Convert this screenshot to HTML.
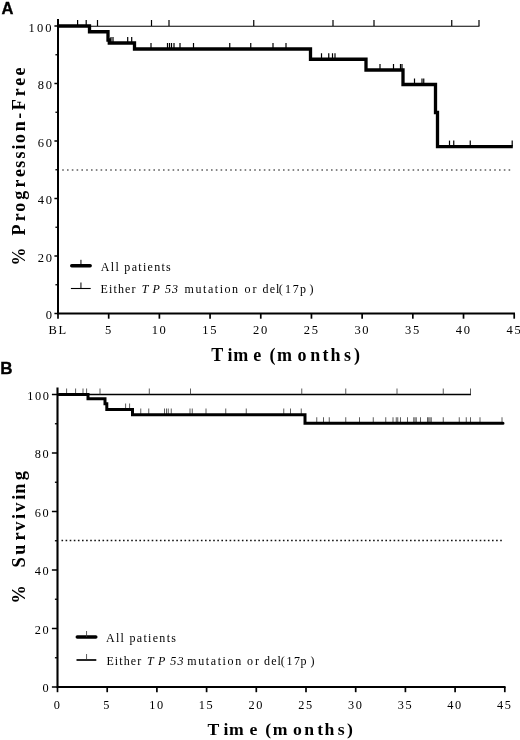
<!DOCTYPE html>
<html><head><meta charset="utf-8"><title>Figure</title>
<style>
html,body{margin:0;padding:0;background:#fff;}
body{width:520px;height:740px;overflow:hidden;}
svg{display:block;}
text{font-family:"Liberation Serif",serif;fill:#000;}
.pl{font-family:"Liberation Sans",sans-serif;font-weight:bold;font-size:17.5px;}
.tk{font-size:12.5px;letter-spacing:1.7px;}
.tkb{font-size:12.3px;letter-spacing:1.6px;}
.ax{font-size:18px;font-weight:bold;}
.axb{font-size:17.7px;font-weight:bold;}
.ayb{font-size:18.3px;font-weight:bold;}
.lg{font-size:12px;letter-spacing:1.9px;}
</style></head><body>
<svg width="520" height="740" viewBox="0 0 520 740">
<rect width="520" height="740" fill="#fff"/>

<line x1="62.2" y1="169.9" x2="512.2" y2="169.9" stroke="#606060" stroke-width="1.5" stroke-dasharray="1.6 3.2"/>
<path d="M58 19V313.5H515.0" fill="none" stroke="#000" stroke-width="2.0"/>
<line x1="54.4" y1="313.50" x2="58" y2="313.50" stroke="#000" stroke-width="1.5"/>
<text class="tk" x="53.6" y="319.20" text-anchor="end">0</text>
<line x1="55.4" y1="284.75" x2="58" y2="284.75" stroke="#000" stroke-width="1.3"/>
<line x1="54.4" y1="256.00" x2="58" y2="256.00" stroke="#000" stroke-width="1.5"/>
<text class="tk" x="53.6" y="261.70" text-anchor="end">20</text>
<line x1="55.4" y1="227.25" x2="58" y2="227.25" stroke="#000" stroke-width="1.3"/>
<line x1="54.4" y1="198.50" x2="58" y2="198.50" stroke="#000" stroke-width="1.5"/>
<text class="tk" x="53.6" y="204.20" text-anchor="end">40</text>
<line x1="55.4" y1="169.75" x2="58" y2="169.75" stroke="#000" stroke-width="1.3"/>
<line x1="54.4" y1="141.00" x2="58" y2="141.00" stroke="#000" stroke-width="1.5"/>
<text class="tk" x="53.6" y="146.70" text-anchor="end">60</text>
<line x1="55.4" y1="112.25" x2="58" y2="112.25" stroke="#000" stroke-width="1.3"/>
<line x1="54.4" y1="83.50" x2="58" y2="83.50" stroke="#000" stroke-width="1.5"/>
<text class="tk" x="53.6" y="89.20" text-anchor="end">80</text>
<line x1="55.4" y1="54.75" x2="58" y2="54.75" stroke="#000" stroke-width="1.3"/>
<line x1="54.4" y1="26.00" x2="58" y2="26.00" stroke="#000" stroke-width="1.5"/>
<text class="tk" x="53.6" y="31.70" text-anchor="end" style="letter-spacing:2.1px">100</text>
<line x1="58.00" y1="313.5" x2="58.00" y2="318.7" stroke="#000" stroke-width="1.7"/>
<text class="tk" x="58.20" y="334.1" text-anchor="middle">BL</text>
<line x1="108.69" y1="313.5" x2="108.69" y2="318.7" stroke="#000" stroke-width="1.7"/>
<text class="tk" x="108.89" y="334.1" text-anchor="middle">5</text>
<line x1="159.38" y1="313.5" x2="159.38" y2="318.7" stroke="#000" stroke-width="1.7"/>
<text class="tk" x="159.58" y="334.1" text-anchor="middle">10</text>
<line x1="210.07" y1="313.5" x2="210.07" y2="318.7" stroke="#000" stroke-width="1.7"/>
<text class="tk" x="210.27" y="334.1" text-anchor="middle">15</text>
<line x1="260.76" y1="313.5" x2="260.76" y2="318.7" stroke="#000" stroke-width="1.7"/>
<text class="tk" x="260.96" y="334.1" text-anchor="middle">20</text>
<line x1="311.45" y1="313.5" x2="311.45" y2="318.7" stroke="#000" stroke-width="1.7"/>
<text class="tk" x="311.65" y="334.1" text-anchor="middle">25</text>
<line x1="362.14" y1="313.5" x2="362.14" y2="318.7" stroke="#000" stroke-width="1.7"/>
<text class="tk" x="362.34" y="334.1" text-anchor="middle">30</text>
<line x1="412.83" y1="313.5" x2="412.83" y2="318.7" stroke="#000" stroke-width="1.7"/>
<text class="tk" x="413.03" y="334.1" text-anchor="middle">35</text>
<line x1="463.52" y1="313.5" x2="463.52" y2="318.7" stroke="#000" stroke-width="1.7"/>
<text class="tk" x="463.72" y="334.1" text-anchor="middle">40</text>
<line x1="514.21" y1="313.5" x2="514.21" y2="318.7" stroke="#000" stroke-width="1.7"/>
<text class="tk" x="514.41" y="334.1" text-anchor="middle">45</text>
<line x1="58" y1="26.3" x2="479.5" y2="26.3" stroke="#000" stroke-width="1.1"/>
<line x1="77.6" y1="20.0" x2="77.6" y2="26" stroke="#000" stroke-width="1.2"/>
<line x1="86.2" y1="20.0" x2="86.2" y2="26" stroke="#000" stroke-width="1.2"/>
<line x1="97.5" y1="20.0" x2="97.5" y2="26" stroke="#000" stroke-width="1.2"/>
<line x1="151.5" y1="20.0" x2="151.5" y2="26" stroke="#000" stroke-width="1.2"/>
<line x1="169" y1="20.0" x2="169" y2="26" stroke="#000" stroke-width="1.2"/>
<line x1="253.75" y1="20.0" x2="253.75" y2="26" stroke="#000" stroke-width="1.2"/>
<line x1="333" y1="20.0" x2="333" y2="26" stroke="#000" stroke-width="1.2"/>
<line x1="374" y1="20.0" x2="374" y2="26" stroke="#000" stroke-width="1.2"/>
<line x1="451.75" y1="20.0" x2="451.75" y2="26" stroke="#000" stroke-width="1.2"/>
<line x1="479" y1="20.0" x2="479" y2="26" stroke="#000" stroke-width="1.2"/>
<line x1="111" y1="37.0" x2="111" y2="43" stroke="#000" stroke-width="1.2"/>
<line x1="113" y1="37.0" x2="113" y2="43" stroke="#000" stroke-width="1.2"/>
<line x1="127.7" y1="37.0" x2="127.7" y2="43" stroke="#000" stroke-width="1.2"/>
<line x1="131.7" y1="37.0" x2="131.7" y2="43" stroke="#000" stroke-width="1.2"/>
<line x1="151" y1="43.0" x2="151" y2="49" stroke="#000" stroke-width="1.2"/>
<line x1="167.5" y1="43.0" x2="167.5" y2="49" stroke="#000" stroke-width="1.2"/>
<line x1="169.5" y1="43.0" x2="169.5" y2="49" stroke="#000" stroke-width="1.2"/>
<line x1="171.5" y1="43.0" x2="171.5" y2="49" stroke="#000" stroke-width="1.2"/>
<line x1="174" y1="43.0" x2="174" y2="49" stroke="#000" stroke-width="1.2"/>
<line x1="180" y1="43.0" x2="180" y2="49" stroke="#000" stroke-width="1.2"/>
<line x1="193.5" y1="43.0" x2="193.5" y2="49" stroke="#000" stroke-width="1.2"/>
<line x1="229.75" y1="43.0" x2="229.75" y2="49" stroke="#000" stroke-width="1.2"/>
<line x1="250.75" y1="43.0" x2="250.75" y2="49" stroke="#000" stroke-width="1.2"/>
<line x1="273" y1="43.0" x2="273" y2="49" stroke="#000" stroke-width="1.2"/>
<line x1="286" y1="43.0" x2="286" y2="49" stroke="#000" stroke-width="1.2"/>
<line x1="321.5" y1="53.25" x2="321.5" y2="59.25" stroke="#000" stroke-width="1.2"/>
<line x1="328.75" y1="53.25" x2="328.75" y2="59.25" stroke="#000" stroke-width="1.2"/>
<line x1="332.5" y1="53.25" x2="332.5" y2="59.25" stroke="#000" stroke-width="1.2"/>
<line x1="335" y1="53.25" x2="335" y2="59.25" stroke="#000" stroke-width="1.2"/>
<line x1="380" y1="64.0" x2="380" y2="70" stroke="#000" stroke-width="1.2"/>
<line x1="393.5" y1="64.0" x2="393.5" y2="70" stroke="#000" stroke-width="1.2"/>
<line x1="400.5" y1="64.0" x2="400.5" y2="70" stroke="#000" stroke-width="1.2"/>
<line x1="402" y1="64.0" x2="402" y2="70" stroke="#000" stroke-width="1.2"/>
<line x1="414.5" y1="78.5" x2="414.5" y2="84.5" stroke="#000" stroke-width="1.2"/>
<line x1="422" y1="78.5" x2="422" y2="84.5" stroke="#000" stroke-width="1.2"/>
<line x1="423.75" y1="78.5" x2="423.75" y2="84.5" stroke="#000" stroke-width="1.2"/>
<line x1="449.5" y1="140.6" x2="449.5" y2="146.6" stroke="#000" stroke-width="1.2"/>
<line x1="453.75" y1="140.6" x2="453.75" y2="146.6" stroke="#000" stroke-width="1.2"/>
<line x1="470.25" y1="140.6" x2="470.25" y2="146.6" stroke="#000" stroke-width="1.2"/>
<line x1="512.2" y1="140.6" x2="512.2" y2="146.6" stroke="#000" stroke-width="1.2"/>
<path d="M58 26H89.5V31.75H108V40H109.3V43H134.5V49H310.5V59.25H366V70H403V84.5H435.5V112.5H437.5V146.6H512.8" fill="none" stroke="#000" stroke-width="3.3" stroke-linejoin="miter" stroke-linecap="butt"/>
<line x1="61.5" y1="540.5" x2="502.75" y2="540.5" stroke="#111" stroke-width="1.6" stroke-dasharray="1.6 2.5"/>
<path d="M57.5 387.5V687H505.55" fill="none" stroke="#000" stroke-width="2.1"/>
<line x1="51.9" y1="687.00" x2="57.5" y2="687.00" stroke="#000" stroke-width="1.5"/>
<text class="tkb" x="50.3" y="692.20" text-anchor="end">0</text>
<line x1="54.9" y1="657.75" x2="57.5" y2="657.75" stroke="#000" stroke-width="1.3"/>
<line x1="51.9" y1="628.50" x2="57.5" y2="628.50" stroke="#000" stroke-width="1.5"/>
<text class="tkb" x="50.3" y="633.70" text-anchor="end">20</text>
<line x1="54.9" y1="599.25" x2="57.5" y2="599.25" stroke="#000" stroke-width="1.3"/>
<line x1="51.9" y1="570.00" x2="57.5" y2="570.00" stroke="#000" stroke-width="1.5"/>
<text class="tkb" x="50.3" y="575.20" text-anchor="end">40</text>
<line x1="54.9" y1="540.75" x2="57.5" y2="540.75" stroke="#000" stroke-width="1.3"/>
<line x1="51.9" y1="511.50" x2="57.5" y2="511.50" stroke="#000" stroke-width="1.5"/>
<text class="tkb" x="50.3" y="516.70" text-anchor="end">60</text>
<line x1="54.9" y1="482.25" x2="57.5" y2="482.25" stroke="#000" stroke-width="1.3"/>
<line x1="51.9" y1="453.00" x2="57.5" y2="453.00" stroke="#000" stroke-width="1.5"/>
<text class="tkb" x="50.3" y="458.20" text-anchor="end">80</text>
<line x1="54.9" y1="423.75" x2="57.5" y2="423.75" stroke="#000" stroke-width="1.3"/>
<line x1="51.9" y1="394.50" x2="57.5" y2="394.50" stroke="#000" stroke-width="1.5"/>
<text class="tkb" x="50.3" y="399.70" text-anchor="end" style="letter-spacing:1.5px">100</text>
<line x1="57.50" y1="687" x2="57.50" y2="692.2" stroke="#000" stroke-width="1.7"/>
<text class="tkb" x="57.50" y="709" text-anchor="middle">0</text>
<line x1="107.20" y1="687" x2="107.20" y2="692.2" stroke="#000" stroke-width="1.7"/>
<text class="tkb" x="107.20" y="709" text-anchor="middle">5</text>
<line x1="156.90" y1="687" x2="156.90" y2="692.2" stroke="#000" stroke-width="1.7"/>
<text class="tkb" x="156.90" y="709" text-anchor="middle">10</text>
<line x1="206.60" y1="687" x2="206.60" y2="692.2" stroke="#000" stroke-width="1.7"/>
<text class="tkb" x="206.60" y="709" text-anchor="middle">15</text>
<line x1="256.30" y1="687" x2="256.30" y2="692.2" stroke="#000" stroke-width="1.7"/>
<text class="tkb" x="256.30" y="709" text-anchor="middle">20</text>
<line x1="306.00" y1="687" x2="306.00" y2="692.2" stroke="#000" stroke-width="1.7"/>
<text class="tkb" x="306.00" y="709" text-anchor="middle">25</text>
<line x1="355.70" y1="687" x2="355.70" y2="692.2" stroke="#000" stroke-width="1.7"/>
<text class="tkb" x="355.70" y="709" text-anchor="middle">30</text>
<line x1="405.40" y1="687" x2="405.40" y2="692.2" stroke="#000" stroke-width="1.7"/>
<text class="tkb" x="405.40" y="709" text-anchor="middle">35</text>
<line x1="455.10" y1="687" x2="455.10" y2="692.2" stroke="#000" stroke-width="1.7"/>
<text class="tkb" x="455.10" y="709" text-anchor="middle">40</text>
<line x1="504.80" y1="687" x2="504.80" y2="692.2" stroke="#000" stroke-width="1.7"/>
<text class="tkb" x="504.80" y="709" text-anchor="middle">45</text>
<line x1="57.5" y1="394.5" x2="471.0" y2="394.5" stroke="#000" stroke-width="1.5"/>
<line x1="66.6" y1="388.5" x2="66.6" y2="394.5" stroke="#333" stroke-width="0.8"/>
<line x1="75.6" y1="388.5" x2="75.6" y2="394.5" stroke="#333" stroke-width="0.8"/>
<line x1="83" y1="388.5" x2="83" y2="394.5" stroke="#333" stroke-width="0.8"/>
<line x1="86.6" y1="388.5" x2="86.6" y2="394.5" stroke="#333" stroke-width="0.8"/>
<line x1="100" y1="388.5" x2="100" y2="394.5" stroke="#333" stroke-width="0.8"/>
<line x1="149.3" y1="388.5" x2="149.3" y2="394.5" stroke="#333" stroke-width="0.8"/>
<line x1="190.5" y1="388.5" x2="190.5" y2="394.5" stroke="#333" stroke-width="0.8"/>
<line x1="301.75" y1="388.5" x2="301.75" y2="394.5" stroke="#333" stroke-width="0.8"/>
<line x1="345.75" y1="388.5" x2="345.75" y2="394.5" stroke="#333" stroke-width="0.8"/>
<line x1="397" y1="388.5" x2="397" y2="394.5" stroke="#333" stroke-width="0.8"/>
<line x1="443.25" y1="388.5" x2="443.25" y2="394.5" stroke="#333" stroke-width="0.8"/>
<line x1="470.5" y1="388.5" x2="470.5" y2="394.5" stroke="#333" stroke-width="0.8"/>
<line x1="125.6" y1="403.5" x2="125.6" y2="409.5" stroke="#333" stroke-width="0.8"/>
<line x1="129.6" y1="403.5" x2="129.6" y2="409.5" stroke="#333" stroke-width="0.8"/>
<line x1="140.75" y1="408.5" x2="140.75" y2="414.5" stroke="#333" stroke-width="0.8"/>
<line x1="148.75" y1="408.5" x2="148.75" y2="414.5" stroke="#333" stroke-width="0.8"/>
<line x1="164.5" y1="408.5" x2="164.5" y2="414.5" stroke="#333" stroke-width="0.8"/>
<line x1="166.5" y1="408.5" x2="166.5" y2="414.5" stroke="#333" stroke-width="0.8"/>
<line x1="168.25" y1="408.5" x2="168.25" y2="414.5" stroke="#333" stroke-width="0.8"/>
<line x1="171.25" y1="408.5" x2="171.25" y2="414.5" stroke="#333" stroke-width="0.8"/>
<line x1="190" y1="408.5" x2="190" y2="414.5" stroke="#333" stroke-width="0.8"/>
<line x1="192.25" y1="408.5" x2="192.25" y2="414.5" stroke="#333" stroke-width="0.8"/>
<line x1="206" y1="408.5" x2="206" y2="414.5" stroke="#333" stroke-width="0.8"/>
<line x1="225.75" y1="408.5" x2="225.75" y2="414.5" stroke="#333" stroke-width="0.8"/>
<line x1="246.25" y1="408.5" x2="246.25" y2="414.5" stroke="#333" stroke-width="0.8"/>
<line x1="283.75" y1="408.5" x2="283.75" y2="414.5" stroke="#333" stroke-width="0.8"/>
<line x1="290.5" y1="408.5" x2="290.5" y2="414.5" stroke="#333" stroke-width="0.8"/>
<line x1="301.25" y1="408.5" x2="301.25" y2="414.5" stroke="#333" stroke-width="0.8"/>
<line x1="316.75" y1="417.25" x2="316.75" y2="423.25" stroke="#333" stroke-width="0.8"/>
<line x1="323.5" y1="417.25" x2="323.5" y2="423.25" stroke="#333" stroke-width="0.8"/>
<line x1="329.25" y1="417.25" x2="329.25" y2="423.25" stroke="#333" stroke-width="0.8"/>
<line x1="345.75" y1="417.25" x2="345.75" y2="423.25" stroke="#333" stroke-width="0.8"/>
<line x1="359.5" y1="417.25" x2="359.5" y2="423.25" stroke="#333" stroke-width="0.8"/>
<line x1="373.25" y1="417.25" x2="373.25" y2="423.25" stroke="#333" stroke-width="0.8"/>
<line x1="385.75" y1="417.25" x2="385.75" y2="423.25" stroke="#333" stroke-width="0.8"/>
<line x1="393" y1="417.25" x2="393" y2="423.25" stroke="#333" stroke-width="0.8"/>
<line x1="396.25" y1="417.25" x2="396.25" y2="423.25" stroke="#333" stroke-width="0.8"/>
<line x1="397.75" y1="417.25" x2="397.75" y2="423.25" stroke="#333" stroke-width="0.8"/>
<line x1="400.5" y1="417.25" x2="400.5" y2="423.25" stroke="#333" stroke-width="0.8"/>
<line x1="407.5" y1="417.25" x2="407.5" y2="423.25" stroke="#333" stroke-width="0.8"/>
<line x1="413.75" y1="417.25" x2="413.75" y2="423.25" stroke="#333" stroke-width="0.8"/>
<line x1="415" y1="417.25" x2="415" y2="423.25" stroke="#333" stroke-width="0.8"/>
<line x1="416.25" y1="417.25" x2="416.25" y2="423.25" stroke="#333" stroke-width="0.8"/>
<line x1="420.5" y1="417.25" x2="420.5" y2="423.25" stroke="#333" stroke-width="0.8"/>
<line x1="427.5" y1="417.25" x2="427.5" y2="423.25" stroke="#333" stroke-width="0.8"/>
<line x1="428.75" y1="417.25" x2="428.75" y2="423.25" stroke="#333" stroke-width="0.8"/>
<line x1="430" y1="417.25" x2="430" y2="423.25" stroke="#333" stroke-width="0.8"/>
<line x1="431.25" y1="417.25" x2="431.25" y2="423.25" stroke="#333" stroke-width="0.8"/>
<line x1="443.25" y1="417.25" x2="443.25" y2="423.25" stroke="#333" stroke-width="0.8"/>
<line x1="459.25" y1="417.25" x2="459.25" y2="423.25" stroke="#333" stroke-width="0.8"/>
<line x1="466.25" y1="417.25" x2="466.25" y2="423.25" stroke="#333" stroke-width="0.8"/>
<line x1="470.5" y1="417.25" x2="470.5" y2="423.25" stroke="#333" stroke-width="0.8"/>
<line x1="480" y1="417.25" x2="480" y2="423.25" stroke="#333" stroke-width="0.8"/>
<line x1="502" y1="417.25" x2="502" y2="423.25" stroke="#333" stroke-width="0.8"/>
<path d="M59 394.5H88V398.7H105V403.75H106.8V409.5H132.5V414.7H305V423.25H503" fill="none" stroke="#000" stroke-width="3.0" stroke-linejoin="miter" stroke-linecap="round"/>
<text class="pl" x="1.6" y="14" style="font-size:16.5px" stroke="#000" stroke-width="0.35">A</text>
<text class="pl" x="0.3" y="373.9" style="font-size:17px" stroke="#000" stroke-width="0.35">B</text>
<text class="ax" x="-1.4 16.6 28.6 42.8 52.2 64.2 76.4 86.9 96.2 105.6 114.6 121.0 132.7 145.3 153.8 167.8 178.2 188.6" y="0" transform="translate(25.1,264) rotate(-90)">% Progression-Free</text>
<text class="ayb" x="-2.1 19.5 33.8 46.6 60.7 70.6 82.2 89.6 101.6 107.6 121.0" y="0" transform="translate(25.2,601.3) rotate(-90)">% Surviving</text>
<text class="ax" x="211.3 227.5 233.3 253.2 263.0 269.6 276.9 297.5 310.3 322.4 330.6 344.1 353.9" y="361">Time (months)</text>
<text class="axb" x="207.5 223.6 229.1 249.5 258.9 265.2 272.8 292.9 304.3 317.2 324.6 337.8 346.9" y="735.4">Time (months)</text>
<line x1="71.7" y1="265.8" x2="90.2" y2="265.8" stroke="#000" stroke-width="3.4" stroke-linecap="round"/>
<line x1="80.95" y1="259.8" x2="80.95" y2="265.8" stroke="#000" stroke-width="1.0"/>
<line x1="70.9" y1="288.5" x2="90.7" y2="288.5" stroke="#000" stroke-width="1.1"/>
<line x1="80.95" y1="282.5" x2="80.95" y2="288.5" stroke="#000" stroke-width="1.0"/>
<text class="lg" x="100.8" y="270.6" style="letter-spacing:1.3px">All patients</text>
<text class="lg" y="293.1"><tspan x="100.6" letter-spacing="1.1">Either </tspan><tspan x="141.7 152.6 164.9 172.1" font-style="italic" letter-spacing="0">TP53</tspan><tspan x="184.6" letter-spacing="1.55">mutation </tspan><tspan x="244.6">or </tspan><tspan x="262.5 269.7 276.0 278.7 284.9 292.8 300.0 309.6" letter-spacing="0">del(17p)</tspan></text>
<line x1="77.3" y1="637" x2="95.8" y2="637" stroke="#000" stroke-width="3.5" stroke-linecap="round"/>
<line x1="86.55" y1="631" x2="86.55" y2="637" stroke="#333" stroke-width="0.8"/>
<line x1="76.5" y1="660" x2="96.3" y2="660" stroke="#000" stroke-width="1.7"/>
<line x1="86.55" y1="654" x2="86.55" y2="660" stroke="#333" stroke-width="0.8"/>
<text class="lg" x="106" y="641.8" style="letter-spacing:1.3px">All patients</text>
<text class="lg" y="664.6"><tspan x="106.4" letter-spacing="1.1">Either </tspan><tspan x="147 157.9 170.2 177.4" font-style="italic" letter-spacing="0">TP53</tspan><tspan x="187.3" letter-spacing="1.6">mutation </tspan><tspan x="247.1">or </tspan><tspan x="263.9 271.2 277.4 280.7 286.5 293.9 300.4 310.4" letter-spacing="0">del(17p)</tspan></text>
</svg></body></html>
